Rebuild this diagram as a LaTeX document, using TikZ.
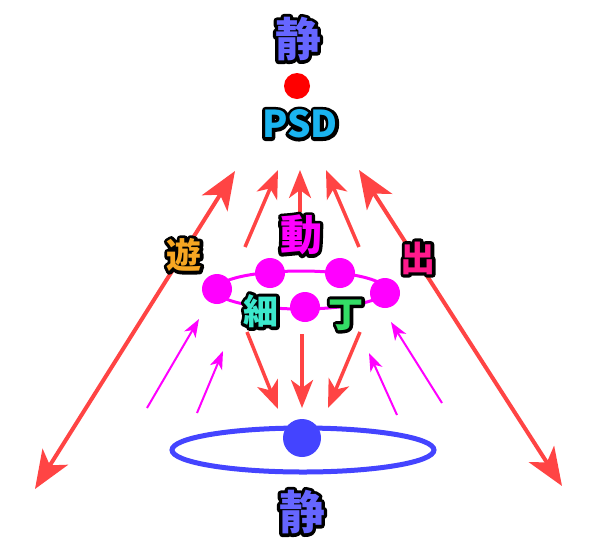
\documentclass[tikz,border=0pt]{standalone}
\usepackage{fontspec}
\newfontfamily\cjk{Noto Sans CJK JP}
\usetikzlibrary{arrows.meta,shapes.geometric}
\definecolor{arrred}{HTML}{FF4444}
\definecolor{mag}{HTML}{FF00FF}
\definecolor{bluering}{HTML}{4444FF}
\definecolor{jing}{HTML}{6666FF}
\definecolor{psdc}{HTML}{1AB4F0}
\definecolor{youc}{HTML}{F7A622}
\definecolor{chuc}{HTML}{FF1A8C}
\definecolor{xic}{HTML}{3CE8CC}
\definecolor{dingc}{HTML}{33DD66}
\tikzset{
  lbl/.style={inner sep=0pt, outer sep=0pt},
  bigarrow/.style={draw=arrred, line width=4pt,
    {Stealth[length=38pt,width=30pt,inset=10pt]}-{Stealth[length=38pt,width=30pt,inset=10pt]}},
  redarrow/.style={draw=arrred, line width=3.5pt,
    -{Stealth[length=28pt,width=22pt,inset=8pt]}},
  magarrow/.style={draw=mag, line width=2pt,
    -{Stealth[length=18pt,width=13pt,inset=5pt]}},
  magdot/.style={circle, fill=mag, minimum size=30pt, inner sep=0pt},
}
\newcommand\outl[6]{%
  \node[lbl,font=\cjk\bfseries\fontsize{#5}{#5}\selectfont,text=black] at (#2,#3)
    {\special{pdf:literal direct 1 j 6.5 w 2 Tr}#6\special{pdf:literal direct 0 Tr 1 w}};
  \node[lbl,font=\cjk\bfseries\fontsize{#5}{#5}\selectfont,text=#4] (#1) at (#2,#3) {#6};}
\begin{document}
\begin{tikzpicture}[x=1pt,y=-1pt]
\useasboundingbox (0,0) rectangle (600,550);
% big double arrows
\coordinate (bl1) at (235,171); \coordinate (bl2) at (35,489);
\coordinate (br1) at (359,170); \coordinate (br2) at (562,486);
\draw[bigarrow] (bl2) -- (bl1);
\draw[bigarrow] (br2) -- (br1);
% red up arrows
\coordinate (u1s) at (245,247); \coordinate (u1e) at (278,170);
\coordinate (u2s) at (300,212); \coordinate (u2e) at (300,170);
\coordinate (u3s) at (359,247); \coordinate (u3e) at (326,170);
\draw[redarrow] (u1s) -- (u1e);
\draw[redarrow] (u2s) -- (u2e);
\draw[redarrow] (u3s) -- (u3e);
% red down arrows
\coordinate (d1s) at (247,332); \coordinate (d1e) at (278,409);
\coordinate (d2s) at (302,334); \coordinate (d2e) at (302,408);
\coordinate (d3s) at (360,332); \coordinate (d3e) at (328,408);
\draw[redarrow] (d1s) -- (d1e);
\draw[redarrow] (d2s) -- (d2e);
\draw[redarrow] (d3s) -- (d3e);
% magenta arrows
\coordinate (m1s) at (147,408); \coordinate (m1e) at (199,319);
\coordinate (m2s) at (197,413); \coordinate (m2e) at (223,351);
\coordinate (m3s) at (397,415); \coordinate (m3e) at (369,353);
\coordinate (m4s) at (442,403); \coordinate (m4e) at (391,322);
\draw[magarrow] (m1s) -- (m1e);
\draw[magarrow] (m2s) -- (m2e);
\draw[magarrow] (m3s) -- (m3e);
\draw[magarrow] (m4s) -- (m4e);
% magenta ring
\node[draw=mag, line width=3pt, ellipse, minimum width=170pt, minimum height=38pt, inner sep=0pt] (ring) at (301,290) {};
\node[magdot] (p1) at (217,289) {};
\node[magdot] (p2) at (270,273) {};
\node[magdot] (p3) at (340,273) {};
\node[magdot] (p4) at (385,293) {};
\node[magdot] (p5) at (305,307) {};
% blue ring
\node[draw=bluering, line width=5pt, ellipse, minimum width=262pt, minimum height=44pt, inner sep=0pt] (bring) at (303,450) {};
\node[circle, fill=bluering, minimum size=38pt, inner sep=0pt] (bdot) at (302,438) {};
% red dot
\node[circle, fill=red, minimum size=26pt, inner sep=0pt] (rdot) at (297,86) {};
% labels
\outl{jtop}{298}{39}{jing}{46pt}{静}
\outl{psd}{300}{124}{psdc}{37pt}{PSD}
\outl{dong}{301}{235}{mag}{42pt}{動}
\outl{you}{184}{255}{youc}{35pt}{遊}
\outl{chu}{418}{258}{chuc}{35pt}{出}
\outl{xi}{261}{311}{xic}{35pt}{細}
\outl{ding}{346}{315}{dingc}{35pt}{丁}
\outl{jbot}{302}{512}{jing}{46pt}{静}
\end{tikzpicture}
\end{document}
